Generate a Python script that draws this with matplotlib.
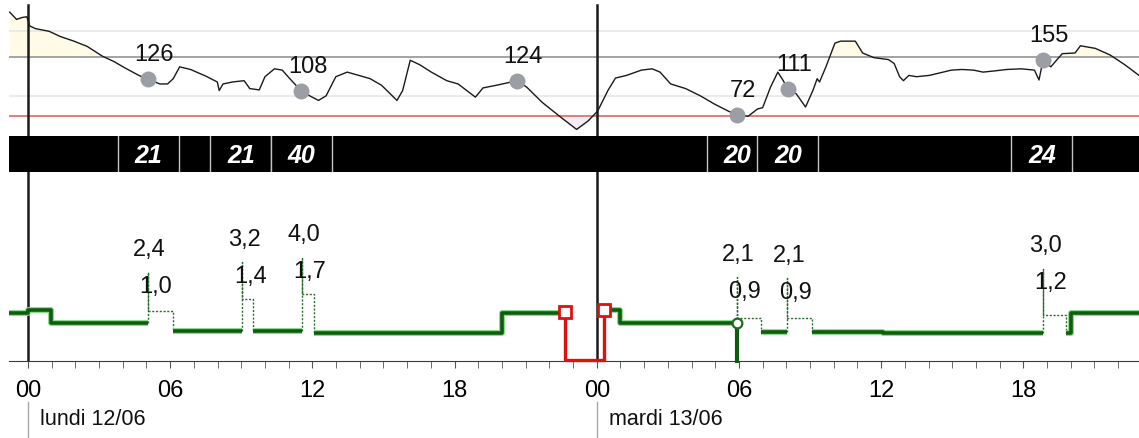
import matplotlib.pyplot as plt
import matplotlib.patheffects as pe
from matplotlib.patches import Rectangle
import matplotlib.transforms as mtransforms

plt.rcParams['font.family'] = ['Liberation Sans', 'DejaVu Sans']

# glycemie (heures depuis lundi 00:00, mg/dL)
gly_h = [-0.77, -0.48, -0.24, -0.05, 0.08, 0.32, 0.89, 1.37, 1.94, 2.5,
         3.15, 3.63, 4.11, 4.68, 5.08, 5.57, 5.89, 6.13, 6.4, 6.86,
         7.5, 7.99, 8.07, 8.23, 8.63, 9.12, 9.36, 9.76, 10.0, 10.4,
         10.73, 11.05, 11.54, 11.94, 12.26, 12.58, 12.99, 13.47, 13.96, 14.44,
         14.92, 15.57, 15.81, 16.13, 16.54, 17.02, 17.67, 18.15, 18.88, 19.2,
         19.76, 20.65, 21.05, 21.7, 22.5, 23.15, 23.64, 24.04, 24.47, 24.79,
         25.26, 25.88, 26.34, 26.67, 27.12, 27.75, 28.37, 28.99, 29.54, 29.9,
         30.39, 30.78, 31.0, 31.33, 31.64, 31.87, 32.08, 32.42, 32.81, 33.12,
         33.3, 33.4, 33.67, 34.05, 34.29, 34.91, 35.22, 35.69, 36.31, 36.55,
         36.78, 36.94, 37.17, 37.49, 38.03, 38.5, 38.96, 39.4, 39.9, 40.3,
         40.83, 41.3, 41.92, 42.47, 42.66, 42.83, 43.16, 43.64, 44.18, 44.41,
         45.04, 45.66, 46.29, 46.88]
gly_v = [228, 217, 220, 221, 207, 203, 199, 191, 184, 176,
         161, 153, 143, 132, 126, 119, 119, 127, 145, 141,
         131, 122, 109, 119, 122, 124, 112, 110, 130, 142,
         140, 127, 108, 100, 94, 101, 130, 137, 132, 127,
         117, 94, 109, 155, 148, 137, 124, 119, 99, 113,
         117, 124, 114, 91, 68, 50, 63, 78, 109, 128,
         132, 140, 142, 137, 119, 112, 101, 88, 78, 72,
         70, 81, 83, 114, 137, 124, 111, 104, 84, 109,
         127, 122, 145, 181, 184, 184, 166, 159, 156, 150,
         130, 124, 132, 130, 132, 136, 140, 141, 140, 137,
         139, 141, 142, 140, 125, 155, 145, 165, 166, 177,
         173, 163, 148, 132]

# points de glycemie annotes
pt_h = [5.08, 11.54, 20.65, 29.9, 32.08, 42.83]
pt_v = [126, 108, 124, 72, 111, 155]

# glucides (g)
carb_h = [5.07, 8.98, 11.54, 29.93, 32.06, 42.78]
carb_g = [21, 21, 40, 20, 20, 24]

# debit basal (U/h)
bas_start = [-0.8, 0.0, 0.97, 6.11, 9.51, 12.07, 20.0, 24.32, 24.98, 30.92, 33.07, 36.08, 43.79, 44.02]
bas_end = [0.0, 0.97, 5.05, 9.04, 11.57, 20.0, 22.68, 24.98, 29.9, 32.04, 36.08, 42.83, 44.02, 46.9]
bas_rate = [0.96, 1.03, 0.76, 0.61, 0.61, 0.56, 0.96, 1.03, 0.76, 0.59, 0.59, 0.56, 0.56, 0.96]

# bolus
bol_h = [5.05, 9.04, 11.57, 29.9, 32.04, 42.83]
bol_top = [1.78, 1.98, 2.07, 1.68, 1.66, 1.85]
bol_ext = [1.01, 1.24, 1.34, 0.87, 0.87, 0.92]
bol_end = [6.11, 9.51, 12.07, 30.92, 33.07, 43.79]
bol_total = ['2,4', '3,2', '4,0', '2,1', '2,1', '3,0']
bol_now = ['1,0', '1,4', '1,7', '0,9', '0,9', '1,2']

# arret pompe
susp_start, susp_end = 22.68, 24.32
susp_y0, susp_y1 = 0.98, 1.02
mark_h, mark_y = 29.9, 0.76

tick_h = [0, 6, 12, 18, 24, 30, 36, 42]
tick_lab = ['00', '06', '12', '18', '00', '06', '12', '18']
day_h = [0, 24]
day_lab = ['lundi 12/06', 'mardi 13/06']

xmin, xmax = -0.8, 46.88
W, H = 1139, 439

fig = plt.figure(figsize=(W / 100, H / 100), dpi=100)
fig.patch.set_facecolor('white')

def rect(x0, y0, x1, y1):
    return [x0 / W, 1 - y1 / H, (x1 - x0) / W, (y1 - y0) / H]

# --- glycemie
ax1 = fig.add_axes(rect(9, 0, W, 137))
ax1.set_xlim(xmin, xmax)
ax1.set_ylim(40, 248)
ax1.axis('off')
for lvl, col in [(200, '#e6e6e6'), (100, '#e6e6e6'), (160, '#8a8a8a'), (70, '#dd5a55')]:
    ax1.axhline(lvl, color=col, lw=1.1, zorder=1)
ax1.fill_between(gly_h, gly_v, 160, where=[v > 160 for v in gly_v], interpolate=True,
                 color='#fffbe6', lw=0, zorder=0)
ax1.fill_between(gly_h, gly_v, 70, where=[v < 70 for v in gly_v], interpolate=True,
                 color='#f7ecf6', lw=0, zorder=0)
ax1.plot(gly_h, gly_v, color='#1a1a1a', lw=1.0, zorder=3)
ax1.plot(pt_h, pt_v, 'o', ms=11.5, color='#9c9ea6', mec='none', zorder=4)
for h, v in zip(pt_h, pt_v):
    ax1.annotate(str(v), (h, v), xytext=(6, 25), textcoords='offset pixels',
                 ha='center', va='center', fontsize=17, color='#111111', zorder=5)
for h in day_h:
    ax1.axvline(h, ymax=0.956, color='#1a1a1a', lw=1.8, zorder=2)

# --- bande glucides
ax2 = fig.add_axes(rect(9, 137, W, 173))
ax2.set_xlim(xmin, xmax)
ax2.set_ylim(0, 1)
ax2.set_facecolor('black')
ax2.set_xticks([])
ax2.set_yticks([])
for s in ax2.spines.values():
    s.set_visible(False)
for i, (h, g) in enumerate(zip(carb_h, carb_g)):
    ax2.add_patch(Rectangle((h - 1.29, -0.1), 2.58, 1.2, facecolor='black',
                            edgecolor='#c4c4c4', lw=1, zorder=2 + i))
    ax2.text(h, 0.47, str(g), color='white', fontsize=18, fontweight='bold',
             fontstyle='italic', ha='center', va='center', zorder=20)

# --- basal / bolus
ax3 = fig.add_axes(rect(9, 173, W, 362))
ax3.set_xlim(xmin, xmax)
ax3.set_ylim(0, 3.78)
for k in ['top', 'right', 'left']:
    ax3.spines[k].set_visible(False)
ax3.spines['bottom'].set_color('#3a3a3a')
ax3.set_yticks([])
ax3.set_xticks(tick_h)
ax3.set_xticklabels(tick_lab, fontsize=17)
ax3.set_xticks(range(0, 47), minor=True)
ax3.tick_params(axis='x', which='both', length=5, color='#555555', pad=8)

green = dict(color='#0e5c0e', lw=2.6, solid_capstyle='butt', zorder=4,
             path_effects=[pe.Stroke(linewidth=4.2, foreground='#86d886'), pe.Normal()])
runs = []
cx, cy = [], []
for s, e, r in zip(bas_start, bas_end, bas_rate):
    if cx and abs(cx[-1] - s) > 1e-6:
        runs.append((cx, cy))
        cx, cy = [], []
    cx += [s, e]
    cy += [r, r]
runs.append((cx, cy))
for rx, ry in runs:
    ax3.plot(rx, ry, **green)

for h, top, ext, end, tot, now in zip(bol_h, bol_top, bol_ext, bol_end, bol_total, bol_now):
    before = bas_rate[bas_end.index(h)]
    after = bas_rate[bas_start.index(end)]
    ax3.plot([h, h, h, end, end], [before, top, ext, ext, after], color='#2d6a2d',
             lw=1.0, ls=(0, (1.5, 1.2)), zorder=3)
    ax3.annotate(tot, (h, top), xytext=(2, 23), textcoords='offset pixels',
                 ha='center', va='center', fontsize=17, color='#111111')
    ax3.annotate(now, (h, top), xytext=(8, -14), textcoords='offset pixels',
                 ha='center', va='center', fontsize=17, color='#111111')

ax3.plot([mark_h, mark_h], [0, mark_y], color='#0e5c0e', lw=3, zorder=4, clip_on=False)
ax3.plot(mark_h, mark_y, 'o', ms=7, mfc='white', mec='#1f6b1f', mew=1.6, zorder=6)

ax3.plot([susp_start, susp_start, susp_end, susp_end], [susp_y0, 0.02, 0.02, susp_y1],
         color='#dd1111', lw=2.4, zorder=5, clip_on=False)
ax3.plot([susp_start, susp_end], [susp_y0, susp_y1], 's', ms=8.5, mfc='white',
         mec='#dd1111', mew=2, zorder=6, ls='none')

for h in day_h:
    ax3.axvline(h, color='#1a1a1a', lw=1.8, zorder=2)

trans = mtransforms.blended_transform_factory(ax3.transData, ax3.transAxes)
for h, lab in zip(day_h, day_lab):
    ax3.plot([h, h], [-0.215, -0.41], color='#a8a8a8', lw=1, transform=trans, clip_on=False)
    ax3.text(h + 0.5, -0.305, lab, fontsize=15.5, color='#111111', ha='left', va='center',
             transform=trans)

fig.savefig('out.png', dpi=100, facecolor='white')
